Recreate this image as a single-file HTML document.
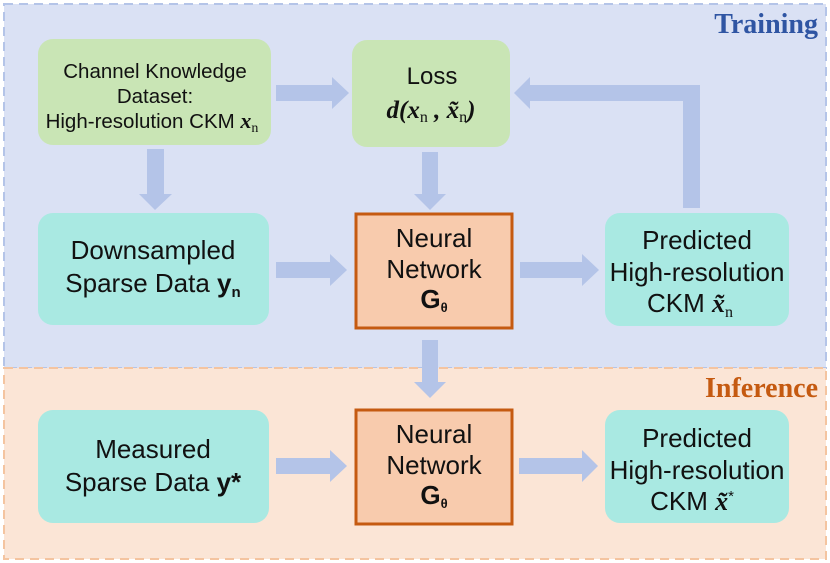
<!DOCTYPE html>
<html><head><meta charset="utf-8"><style>
body{margin:0;background:#fff}
svg{display:block}
.s{font-family:"Liberation Sans",sans-serif;fill:#111}
.m{font-family:"Liberation Serif",serif;font-weight:bold;font-style:italic;fill:#111}
</style></head><body>
<svg width="830" height="563" viewBox="0 0 830 563" xmlns="http://www.w3.org/2000/svg">
<rect x="4" y="4" width="822" height="364" fill="#dae1f4" stroke="#b4c4e8" stroke-width="2" stroke-dasharray="9,6"/>
<rect x="4" y="368" width="822" height="191" fill="#fbe5d6" stroke="#f4c4a0" stroke-width="2" stroke-dasharray="9,6"/>
<text x="818" y="33" text-anchor="end" font-family="Liberation Serif,serif" font-weight="bold" font-size="28" fill="#2f55a3">Training</text>
<text x="818" y="397" text-anchor="end" font-family="Liberation Serif,serif" font-weight="bold" font-size="28" fill="#c55a11">Inference</text>
<g fill="#b4c4e8">
<polygon points="276,85 332,85 332,77 349,93 332,109 332,101 276,101"/>
<polygon points="147,149 164,149 164,194 172,194 155,210 139,194 147,194"/>
<polygon points="422,152 438,152 438,194 446,194 430,210 414,194 422,194"/>
<polygon points="276,262 330,262 330,254 347,270 330,286 330,278 276,278"/>
<polygon points="520,262 582,262 582,254 599,270 582,286 582,278 520,278"/>
<polygon points="683,208 700,208 700,85 530,85 530,77 514,93 530,109 530,101 683,101"/>
<polygon points="422,340 438,340 438,382 446,382 430,398 414,382 422,382"/>
<polygon points="276,458 330,458 330,450 347,466 330,482 330,474 276,474"/>
<polygon points="519,458 582,458 582,450 598,466 582,482 582,474 519,474"/>
</g>
<rect x="38" y="39" width="233" height="106" rx="15" fill="#c9e5b5"/>
<rect x="352" y="40" width="158" height="107" rx="15" fill="#c9e5b5"/>
<rect x="38" y="213" width="231" height="112" rx="15" fill="#a9e9e2"/>
<rect x="356" y="214" width="156" height="114" fill="#f8cbad" stroke="#c55a11" stroke-width="3"/>
<rect x="605" y="213" width="184" height="113" rx="15" fill="#a9e9e2"/>
<rect x="38" y="410" width="231" height="113" rx="15" fill="#a9e9e2"/>
<rect x="356" y="410" width="156" height="114" fill="#f8cbad" stroke="#c55a11" stroke-width="3"/>
<rect x="605" y="410" width="184" height="113" rx="15" fill="#a9e9e2"/>
<g class="s" text-anchor="middle" font-size="20.5">
<text x="155" y="78">Channel Knowledge</text>
<text x="155" y="103">Dataset:</text>
<text x="152" y="128">High-resolution CKM <tspan class="m" font-size="22">x</tspan><tspan font-family="Liberation Serif,serif" font-size="14" dy="4">n</tspan></text>
</g>
<text class="s" x="432" y="84" text-anchor="middle" font-size="24">Loss</text>
<text class="m" x="431" y="118" text-anchor="middle" font-size="25">d(x<tspan font-style="normal" font-weight="normal" font-size="16" dy="4">n</tspan><tspan dy="-4"> , x̃</tspan><tspan font-style="normal" font-weight="normal" font-size="16" dy="4">n</tspan><tspan dy="-4">)</tspan></text>
<g class="s" text-anchor="middle" font-size="26">
<text x="153" y="259">Downsampled</text>
<text x="153" y="292">Sparse Data <tspan font-weight="bold">y</tspan><tspan font-weight="bold" font-size="15" dy="5">n</tspan></text>
<text x="434" y="247">Neural</text>
<text x="434" y="278">Network</text>
<text x="434" y="308" font-weight="bold">G<tspan font-size="13" dy="4">θ</tspan></text>
<text x="697" y="249">Predicted</text>
<text x="697" y="281">High-resolution</text>
<text x="690" y="312">CKM <tspan class="m">x̃</tspan><tspan font-family="Liberation Serif,serif" font-size="16" dy="5">n</tspan></text>
<text x="153" y="458">Measured</text>
<text x="153" y="491">Sparse Data <tspan font-weight="bold">y*</tspan></text>
<text x="434" y="443">Neural</text>
<text x="434" y="474">Network</text>
<text x="434" y="504" font-weight="bold">G<tspan font-size="13" dy="4">θ</tspan></text>
<text x="697" y="447">Predicted</text>
<text x="697" y="479">High-resolution</text>
<text x="692" y="510">CKM <tspan class="m">x̃</tspan><tspan font-size="15" dy="-9">*</tspan></text>
</g>
</svg>
</body></html>
